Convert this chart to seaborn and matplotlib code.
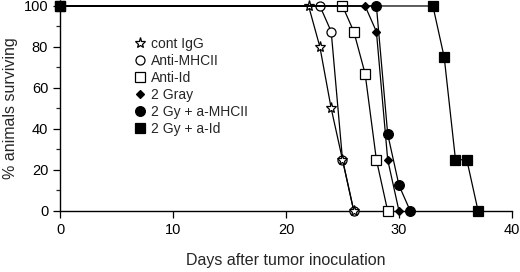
import matplotlib
matplotlib.use('Agg')
import matplotlib.pyplot as plt
import seaborn as sns
import pandas as pd
from matplotlib.lines import Line2D
from matplotlib.ticker import MultipleLocator

# Survival data (day, % surviving)
days_igg = [0, 22, 23, 24, 25, 26]
surv_igg = [100, 100, 80, 50, 25, 0]
days_mhc = [0, 23, 24, 25, 26]
surv_mhc = [100, 100, 87.5, 25, 0]
days_id = [0, 25, 26, 27, 28, 29]
surv_id = [100, 100, 87.5, 67, 25, 0]
days_gray = [0, 27, 28, 29, 30]
surv_gray = [100, 100, 87.5, 25, 0]
days_gy_mhc = [0, 28, 29, 30, 31]
surv_gy_mhc = [100, 100, 37.5, 12.5, 0]
days_gy_id = [0, 33, 34, 35, 36, 37]
surv_gy_id = [100, 100, 75, 25, 25, 0]

labels = ['cont IgG', 'Anti-MHCII', 'Anti-Id', '2 Gray', '2 Gy + a-MHCII', '2 Gy + a-Id']

sns.set_style('ticks')
plt.rcParams['font.family'] = ['Liberation Sans', 'DejaVu Sans']

fig = plt.figure(figsize=(5.2, 2.72), dpi=100)
ax = fig.add_axes([0.1154, 0.2243, 0.8692, 0.7537])

# marker style per series: (marker, size, facecolor, zorder)
styles = {
    'cont IgG': ('*', 8, 'white', 4),
    'Anti-MHCII': ('o', 6.5, 'white', 3),
    'Anti-Id': ('s', 6.5, 'white', 5),
    '2 Gray': ('D', 4.5, 'black', 6),
    '2 Gy + a-MHCII': ('o', 7, 'black', 7),
    '2 Gy + a-Id': ('s', 7, 'black', 8),
}
series = {
    'cont IgG': (days_igg, surv_igg),
    'Anti-MHCII': (days_mhc, surv_mhc),
    'Anti-Id': (days_id, surv_id),
    '2 Gray': (days_gray, surv_gray),
    '2 Gy + a-MHCII': (days_gy_mhc, surv_gy_mhc),
    '2 Gy + a-Id': (days_gy_id, surv_gy_id),
}

for name in labels:
    d, s = series[name]
    df = pd.DataFrame({'day': d, 'surv': s})
    m, ms, fc, z = styles[name]
    sns.lineplot(data=df, x='day', y='surv', ax=ax, color='black', lw=0.9,
                 marker=m, markersize=ms, markerfacecolor=fc,
                 markeredgecolor='black', markeredgewidth=0.9,
                 zorder=z, clip_on=False, sort=False, estimator=None)

ax.set_xlim(0, 40)
ax.set_ylim(0, 100)
ax.xaxis.set_major_locator(MultipleLocator(10))
ax.yaxis.set_major_locator(MultipleLocator(20))
ax.yaxis.set_minor_locator(MultipleLocator(10))
ax.tick_params(axis='both', which='major', direction='out', length=5, width=0.9,
               labelsize=10.5, color='black', labelcolor='black')
ax.tick_params(axis='y', which='minor', direction='out', length=3, width=0.9)
sns.despine(ax=ax)
for sp in ['left', 'bottom']:
    ax.spines[sp].set_linewidth(1.0)
    ax.spines[sp].set_color('black')

ax.set_xlabel('Days after tumor inoculation', fontsize=11.5, labelpad=12)
ax.set_ylabel('% animals surviving', fontsize=11.5, labelpad=4)

handles = []
for name in labels:
    m, ms, fc, z = styles[name]
    handles.append(Line2D([], [], linestyle='none', marker=m, markersize=ms,
                          markerfacecolor=fc, markeredgecolor='black',
                          markeredgewidth=0.9))
ax.legend(handles, labels, loc='upper left', bbox_to_anchor=(0.15, 0.885),
          frameon=False, fontsize=10, handlelength=0.8, handletextpad=0.35,
          labelspacing=0.22, borderpad=0)

fig.savefig('out.png', dpi=100)
